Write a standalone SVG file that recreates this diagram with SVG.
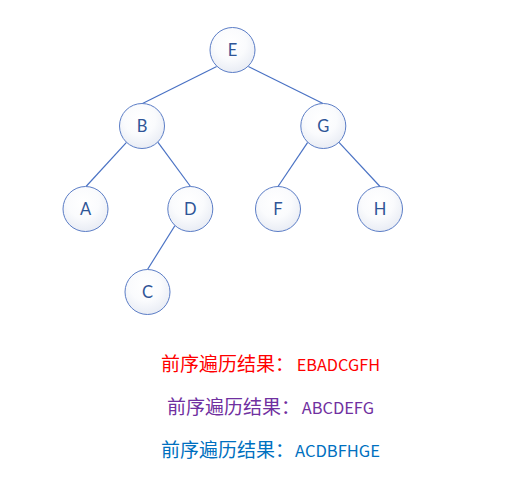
<svg xmlns="http://www.w3.org/2000/svg" width="508" height="495" viewBox="0 0 508 495">
<defs>
<radialGradient id="g" cx="0.45" cy="0.35" r="0.7">
<stop offset="0" stop-color="#FFFFFF"/>
<stop offset="0.5" stop-color="#FAFBFD"/>
<stop offset="1" stop-color="#E6EAF3"/>
</radialGradient>
</defs>
<style>
.n circle{fill:url(#g);stroke:#5B7DC6;stroke-width:1}
.n text{font-family:Lato,"Liberation Sans",sans-serif;font-size:16.5px;fill:#2F5597;text-anchor:middle}
.e line{stroke:#4A72C4;stroke-width:1.2}
.t{font-family:"Noto Sans CJK SC","Noto Sans",sans-serif;font-size:19px}
.l{font-family:"Noto Sans CJK SC","Noto Sans",sans-serif;font-size:16px}
</style>
<rect width="508" height="495" fill="#FFFFFF"/>
<g id="connectors" class="e">
<line x1="216.7" y1="66.5" x2="142.5" y2="103.5"/>
<line x1="248.3" y1="66.5" x2="323" y2="103.5"/>
<line x1="126.5" y1="142.3" x2="86" y2="186.5"/>
<line x1="158" y1="142.3" x2="190.5" y2="186.5"/>
<line x1="175" y1="225.5" x2="147.5" y2="269.5"/>
<line x1="307.7" y1="142.3" x2="278" y2="186.5"/>
<line x1="339" y1="142.3" x2="380" y2="186.5"/>
</g>
<g id="node-E" class="n"><circle cx="232.5" cy="50" r="22.5"/><text x="232.5" y="55.8">E</text></g>
<g id="node-B" class="n"><circle cx="142" cy="126" r="22.5"/><text x="142" y="131.8">B</text></g>
<g id="node-G" class="n"><circle cx="323.3" cy="126" r="22.5"/><text x="323.3" y="131.8">G</text></g>
<g id="node-A" class="n"><circle cx="85.5" cy="209" r="22.5"/><text x="85.5" y="214.8">A</text></g>
<g id="node-D" class="n"><circle cx="190.3" cy="209" r="22.5"/><text x="190.3" y="214.8">D</text></g>
<g id="node-F" class="n"><circle cx="278" cy="209" r="22.5"/><text x="278" y="214.8">F</text></g>
<g id="node-H" class="n"><circle cx="380" cy="209" r="22.5"/><text x="380" y="214.8">H</text></g>
<g id="node-C" class="n"><circle cx="147.5" cy="292" r="22.5"/><text x="147.5" y="297.8">C</text></g>
<g id="results">
<text class="t" x="161" y="370.5" fill="#FF0000">前序遍历结果：<tspan class="l" x="296.7" textLength="83.3" lengthAdjust="spacingAndGlyphs">EBADCGFH</tspan></text>
<text class="t" x="167" y="414.3" fill="#7030A0">前序遍历结果：<tspan class="l" x="301.7" textLength="72.3" lengthAdjust="spacingAndGlyphs">ABCDEFG</tspan></text>
<text class="t" x="161" y="457" fill="#0070C0">前序遍历结果：<tspan class="l" x="295" textLength="85" lengthAdjust="spacingAndGlyphs">ACDBFHGE</tspan></text>
</g>
</svg>
